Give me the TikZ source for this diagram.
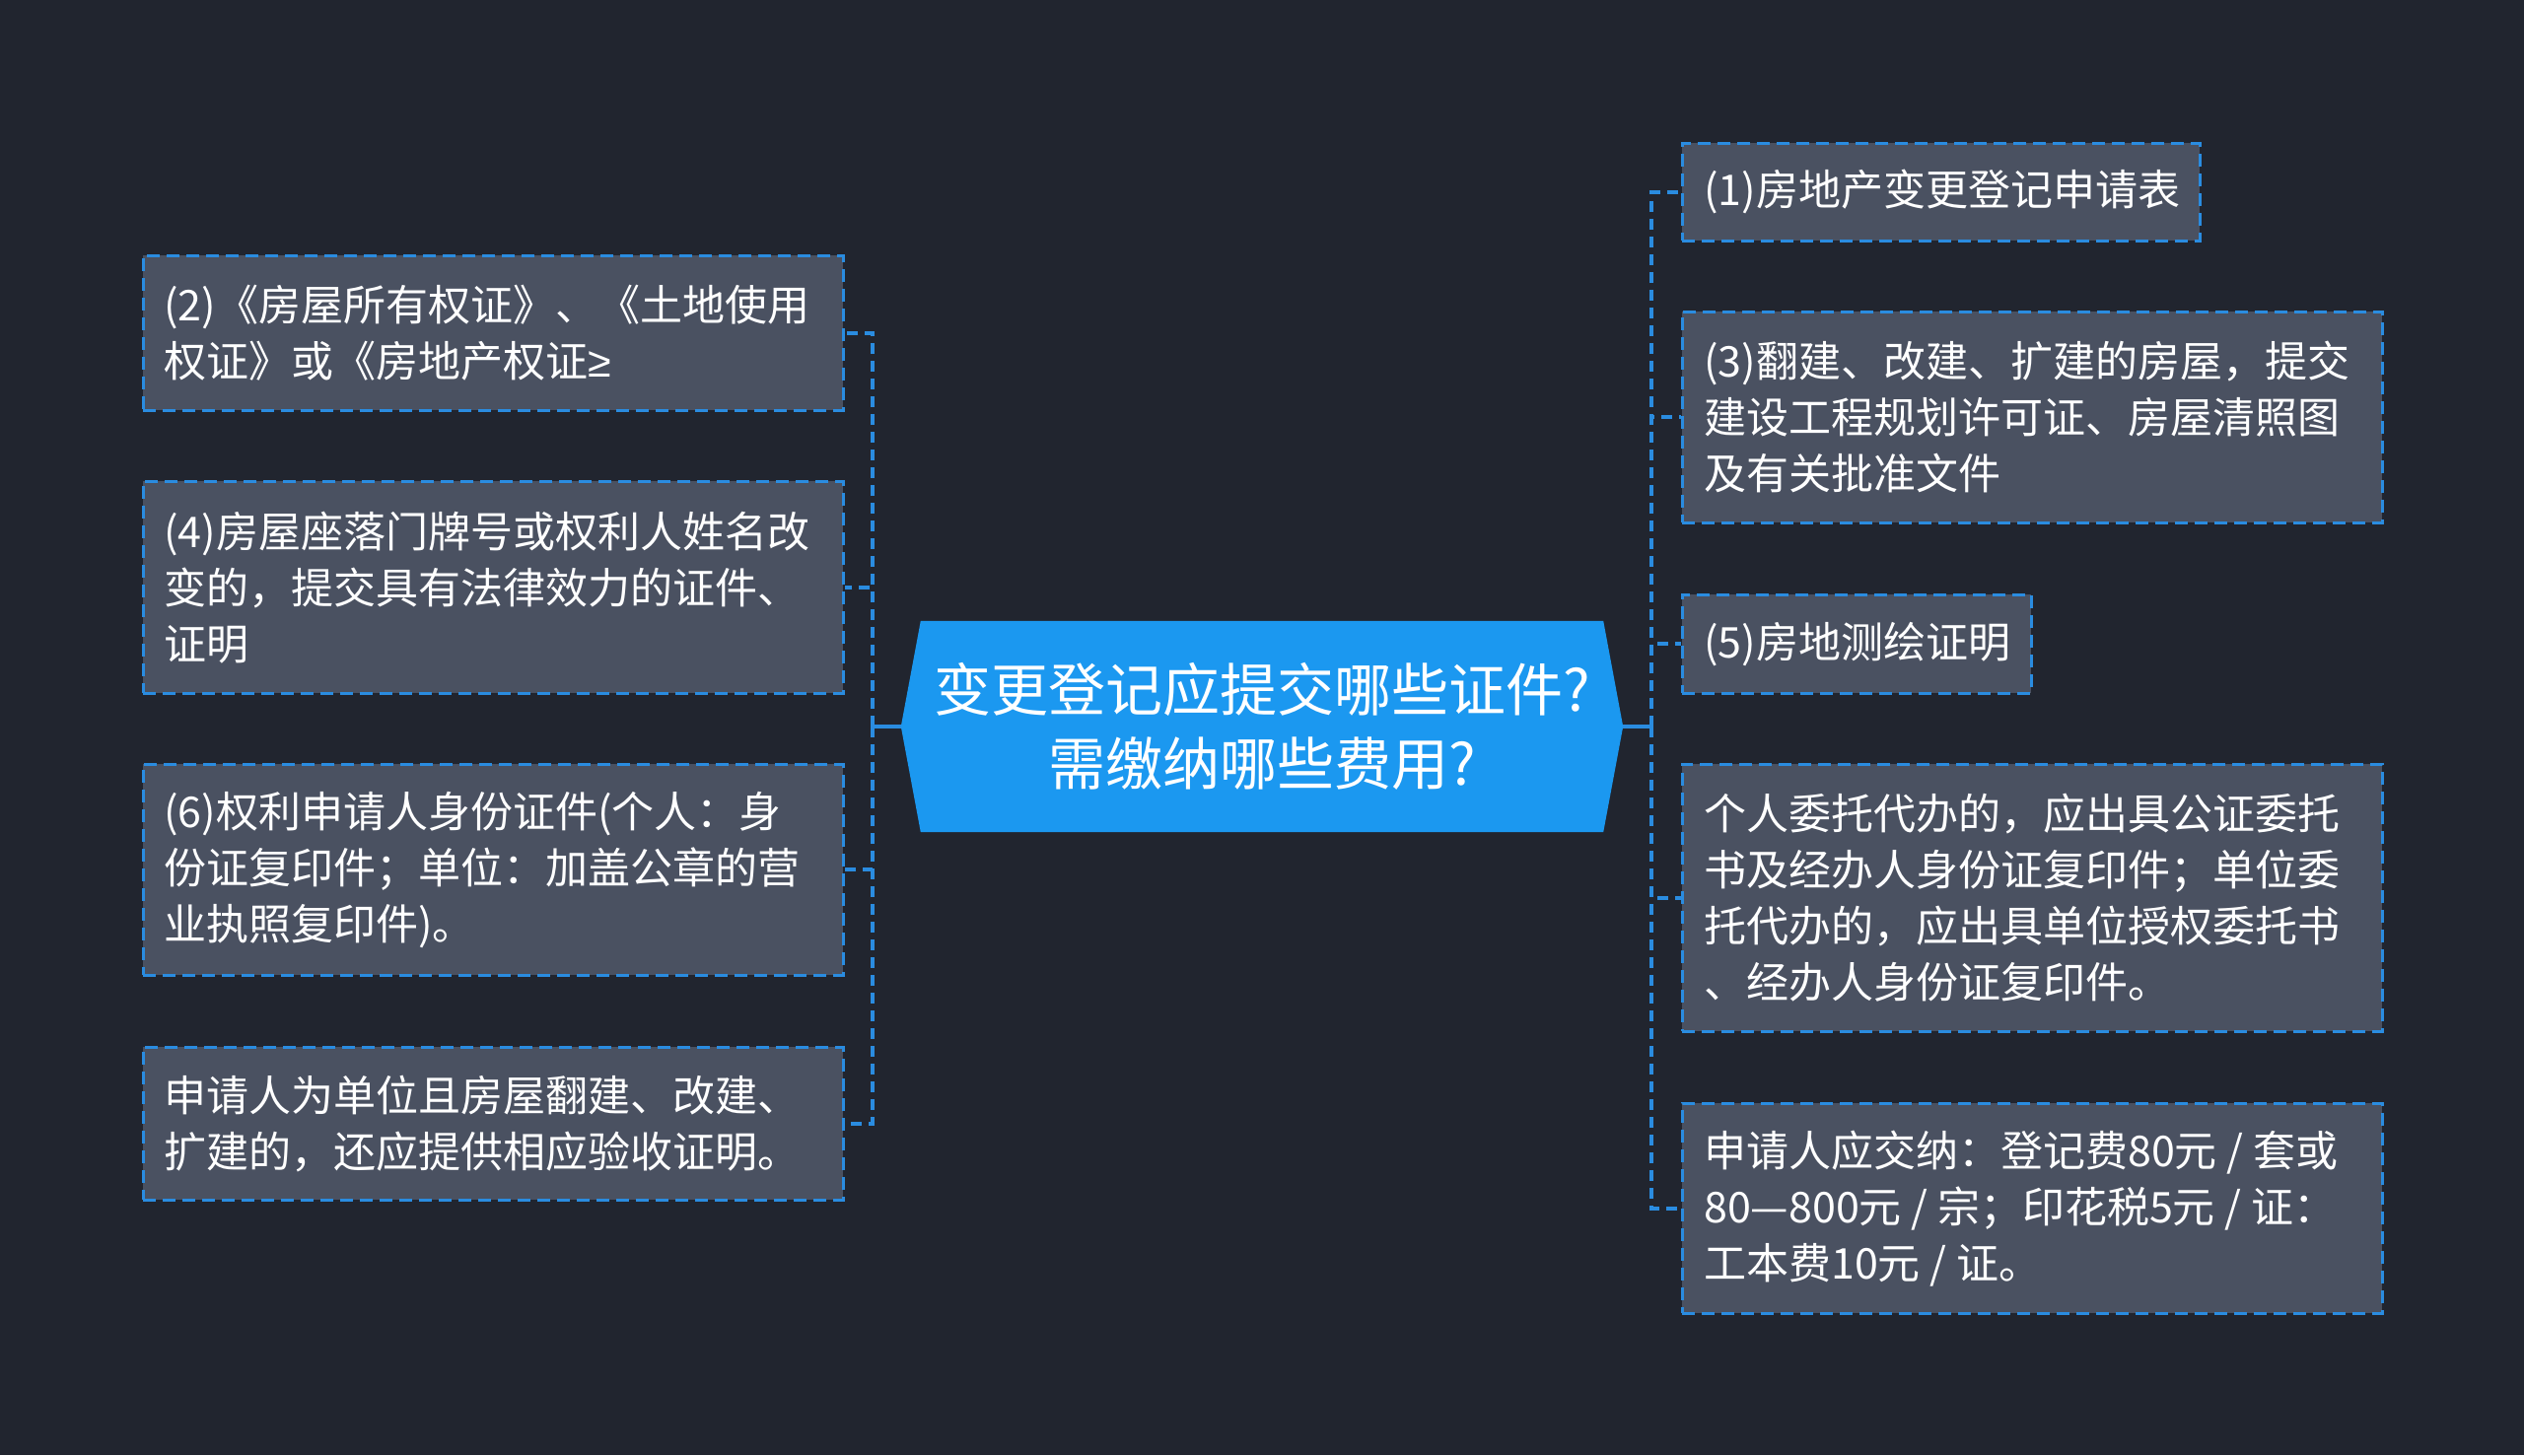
\documentclass[tikz,border=0pt]{standalone}
\usepackage{fontspec}
\setmainfont{Noto Sans CJK SC}
\newfontfamily\symfont{Liberation Sans}
\usetikzlibrary{calc}
\definecolor{bgc}{HTML}{21252F}
\definecolor{boxfill}{HTML}{4A5161}
\definecolor{edge}{HTML}{2A8CE0}
\definecolor{mainfill}{HTML}{1B98F0}
\tikzset{
  boxnode/.style={draw=edge, fill=boxfill, line width=2.5pt, dash pattern=on 13pt off 7pt, inner sep=0pt, anchor=north west},
  txt/.style={text=white, font=\fontsize{43}{57}\selectfont, align=left, inner sep=0pt, anchor=west},
  busline/.style={draw=edge, line width=4pt, dash pattern=on 11pt off 7pt},
  solidline/.style={draw=edge, line width=4pt},
}
\begin{document}
\begin{tikzpicture}[x=1pt,y=-1pt]
\fill[bgc] (0,0) rectangle (2560,1476);
\useasboundingbox (0,0) rectangle (2560,1476);

% center
\node[minimum width=732pt, minimum height=214pt, inner sep=0pt] (c) at (1280,737) {};
\fill[mainfill] (c.west) -- ($(c.north west)+(20,0)$) -- ($(c.north east)+(-20,0)$) -- (c.east) -- ($(c.south east)+(-20,0)$) -- ($(c.south west)+(20,0)$) -- cycle;
\node[text=white, font=\fontsize{58}{75}\selectfont, align=center, inner sep=0pt] (ct) at (c.center) {变更登记应提交哪些证件?\\需缴纳哪些费用?};

% left boxes
\node[boxnode, minimum width=710pt, minimum height=157pt] (L1) at (144,258) {};
\node[txt] (L1t) at ($(L1.west)+(22,0)$) {(2)《房屋所有权证》、《土地使用\\权证》或《房地产权证{\symfont ≥}};
\node[boxnode, minimum width=710pt, minimum height=215pt] (L2) at (144,487) {};
\node[txt] (L2t) at ($(L2.west)+(22,0)$) {(4)房屋座落门牌号或权利人姓名改\\变的，提交具有法律效力的证件、\\证明};
\node[boxnode, minimum width=710pt, minimum height=214pt] (L3) at (144,774) {};
\node[txt] (L3t) at ($(L3.west)+(22,0)$) {(6)权利申请人身份证件(个人：身\\份证复印件；单位：加盖公章的营\\业执照复印件)。};
\node[boxnode, minimum width=710pt, minimum height=155pt] (L4) at (144,1061) {};
\node[txt] (L4t) at ($(L4.west)+(22,0)$) {申请人为单位且房屋翻建、改建、\\扩建的，还应提供相应验收证明。};

% right boxes
\node[boxnode, minimum width=525pt, minimum height=99pt] (R1) at (1705,144) {};
\node[txt] (R1t) at ($(R1.west)+(23,0)$) {(1)房地产变更登记申请表};
\node[boxnode, minimum width=710pt, minimum height=214pt] (R2) at (1705,315) {};
\node[txt] (R2t) at ($(R2.west)+(23,0)$) {(3)翻建、改建、扩建的房屋，提交\\建设工程规划许可证、房屋清照图\\及有关批准文件};
\node[boxnode, minimum width=354pt, minimum height=100pt] (R3) at (1705,602) {};
\node[txt] (R3t) at ($(R3.west)+(23,0)$) {(5)房地测绘证明};
\node[boxnode, minimum width=710pt, minimum height=271pt] (R4) at (1705,774) {};
\node[txt] (R4t) at ($(R4.west)+(23,0)$) {个人委托代办的，应出具公证委托\\书及经办人身份证复印件；单位委\\托代办的，应出具单位授权委托书\\、经办人身份证复印件。};
\node[boxnode, minimum width=710pt, minimum height=213pt] (R5) at (1705,1118) {};
\node[txt] (R5t) at ($(R5.west)+(23,0)$) {申请人应交纳：登记费80元 / 套或\\80—800元 / 宗；印花税5元 / 证：\\工本费10元 / 证。};

% connectors
\coordinate (lb) at (885,737);
\coordinate (rb) at (1675,737);
\draw[solidline] (c.west) -- (lb);
\draw[solidline] (c.east) -- (rb);
\foreach \n in {L1,L2,L3,L4}{
  \draw[busline] (lb) |- (\n.east);
}
\foreach \n in {R1,R2,R3,R4,R5}{
  \draw[busline] (rb) |- (\n.west);
}
\end{tikzpicture}
\end{document}
